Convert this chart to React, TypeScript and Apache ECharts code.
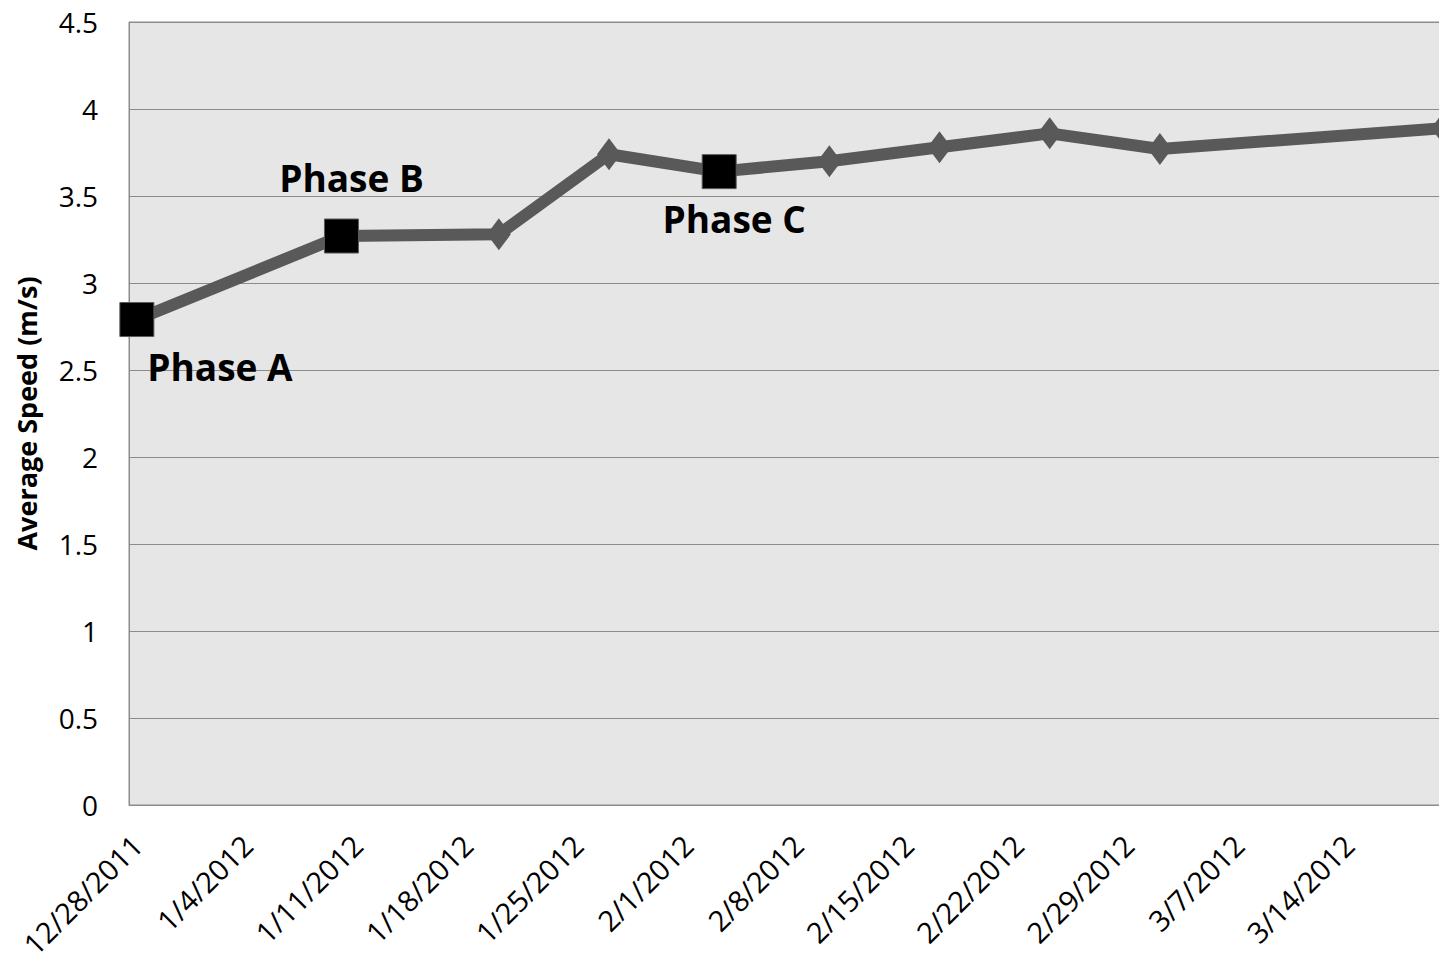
import React, { useEffect, useRef } from "react";
import * as echarts from "echarts";

// Weekly tick labels along the date axis (one every 7 days from 12/28/2011)
const tickLabels = [
  "12/28/2011", "1/4/2012", "1/11/2012", "1/18/2012", "1/25/2012", "2/1/2012",
  "2/8/2012", "2/15/2012", "2/22/2012", "2/29/2012", "3/7/2012", "3/14/2012",
];

// Measurement dates and average speeds
const dates = [
  "12/28/2011", "1/10/2012", "1/20/2012", "1/27/2012", "2/3/2012",
  "2/10/2012", "2/17/2012", "2/24/2012", "3/2/2012", "3/20/2012",
];
const speeds = [2.79, 3.27, 3.28, 3.74, 3.64, 3.7, 3.78, 3.86, 3.77, 3.89];

// Phase markers: index into the series and its caption
const phases = [
  { index: 0, name: "Phase A", offset: [83, 47] },
  { index: 1, name: "Phase B", offset: [10, -59] },
  { index: 4, name: "Phase C", offset: [15, 47] },
];

const DAY = 86400000;
const parseDate = (s: string) => {
  const [m, d, y] = s.split("/").map(Number);
  return Date.UTC(y, m - 1, d);
};
const origin = parseDate(tickLabels[0]);
const dayOffset = (s: string) => Math.round((parseDate(s) - origin) / DAY);
const tickDays = tickLabels.map(dayOffset);

const FONT = "'Open Sans', 'DejaVu Sans', sans-serif";

export default function App() {
  const ref = useRef<HTMLDivElement>(null);

  useEffect(() => {
    if (!ref.current) return;
    const chart = echarts.init(ref.current, undefined, { renderer: "svg" });

    const data = dates.map((d, i) => {
      const phase = phases.find((p) => p.index === i);
      const point: any = { value: [dayOffset(d), speeds[i]] };
      if (phase) {
        point.symbol = "rect";
        point.symbolSize = 34;
        point.itemStyle = { color: "#000000", borderColor: "#5a5a5a", borderWidth: 1 };
        point.label = {
          show: true,
          formatter: phase.name,
          position: "inside",
          offset: phase.offset,
          fontFamily: FONT,
          fontWeight: "bold",
          fontSize: 37,
          color: "#000000",
        };
      }
      return point;
    });

    chart.setOption({
      animation: false,
      grid: {
        left: 129,
        right: -12,
        top: 22,
        bottom: 156,
        outerBoundsMode: "none",
        containLabel: false,
        show: true,
        backgroundColor: "#e6e6e6",
        borderColor: "#8c8c8c",
        borderWidth: 1,
      },
      xAxis: {
        type: "value",
        // each day occupies one slot; dates sit in the middle of their slot
        min: -0.5,
        max: 83.5,
        axisLine: { show: true, onZero: false, lineStyle: { color: "#8c8c8c", width: 1 } },
        axisTick: { show: false },
        splitLine: { show: false },
        axisLabel: {
          customValues: tickDays,
          rotate: 45,
          margin: 35,
          fontFamily: FONT,
          fontSize: 29,
          color: "#000000",
          formatter: (v: number) => tickLabels[tickDays.indexOf(Math.round(v))] ?? "",
        },
      },
      yAxis: {
        type: "value",
        min: 0,
        max: 4.5,
        interval: 0.5,
        name: "Average Speed (m/s)",
        nameLocation: "middle",
        nameGap: 89,
        nameTextStyle: {
          fontFamily: FONT,
          fontWeight: "bold",
          fontSize: 27,
          color: "#000000",
        },
        axisLine: { show: true, onZero: false, lineStyle: { color: "#8c8c8c", width: 1 } },
        axisTick: { show: false },
        splitLine: { show: true, lineStyle: { color: "#8c8c8c", width: 1 } },
        axisLabel: {
          margin: 31,
          fontFamily: FONT,
          fontSize: 28,
          color: "#000000",
        },
      },
      series: [
        {
          type: "line",
          data,
          clip: false,
          symbol: "diamond",
          symbolSize: [24, 32],
          lineStyle: { color: "#595959", width: 12 },
          itemStyle: { color: "#595959" },
          z: 3,
        },
      ],
    });

    return () => chart.dispose();
  }, []);

  return (
    <div
      ref={ref}
      style={{ position: "absolute", left: 0, top: 0, width: 1439, height: 961 }}
    />
  );
}
